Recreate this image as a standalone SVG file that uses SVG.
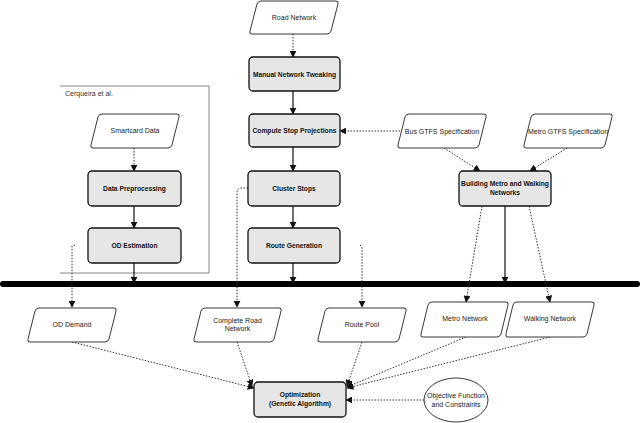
<svg xmlns="http://www.w3.org/2000/svg" width="640" height="423" viewBox="0 0 640 423">
<defs>
<style>
.proc{fill:#e6e6e6;stroke:#111;stroke-width:1.3}
.data{fill:#fff;stroke:#222;stroke-width:0.9}
.b{font-family:"Liberation Sans",Arial,sans-serif;font-size:6.7px;font-weight:bold;fill:#111;text-anchor:middle}
.t{font-family:"Liberation Sans",Arial,sans-serif;font-size:7px;fill:#222;text-anchor:middle}
.solid{fill:none;stroke:#111;stroke-width:1.2}
.dot{fill:none;stroke:#333;stroke-width:1;stroke-dasharray:1.5 1.5}
</style>
<marker id="ah" viewBox="0 0 10 10" refX="9" refY="5" markerWidth="7" markerHeight="7" markerUnits="userSpaceOnUse" orient="auto">
<path d="M0,0 L10,5 L0,10 z" fill="#111"/>
</marker>
</defs>
<rect width="640" height="423" fill="#fff"/>

<g id="cerqueira">
<path d="M60,86 H209 V273 H60" fill="none" stroke="#777" stroke-width="0.9"/>
<text x="65" y="96" font-family="'Liberation Sans',Arial,sans-serif" font-size="7px" fill="#333">Cerqueira et al.</text>
</g>

<g id="bus">
<line x1="3" y1="284" x2="637" y2="284" stroke="#000" stroke-width="6" stroke-linecap="round"/>
</g>

<g id="connectors">
<line class="dot" x1="293" y1="34" x2="293" y2="57" marker-end="url(#ah)"/>
<line class="solid" x1="293" y1="91" x2="293" y2="114" marker-end="url(#ah)"/>
<line class="solid" x1="293" y1="147" x2="293" y2="171" marker-end="url(#ah)"/>
<line class="solid" x1="293" y1="206" x2="293" y2="228" marker-end="url(#ah)"/>
<line class="solid" x1="293" y1="263" x2="293" y2="283" marker-end="url(#ah)"/>
<line class="dot" x1="134" y1="148" x2="134" y2="171" marker-end="url(#ah)"/>
<line class="solid" x1="134" y1="206" x2="134" y2="228" marker-end="url(#ah)"/>
<line class="solid" x1="134" y1="263" x2="134" y2="283" marker-end="url(#ah)"/>
<line class="solid" x1="505" y1="206" x2="505" y2="283" marker-end="url(#ah)"/>
<line class="dot" x1="400" y1="131" x2="340" y2="131" marker-end="url(#ah)"/>
<line class="dot" x1="444" y1="148" x2="480" y2="171" marker-end="url(#ah)"/>
<line class="dot" x1="567" y1="148" x2="530" y2="171" marker-end="url(#ah)"/>
<path class="dot" d="M75,245 L72,246 V307" marker-end="url(#ah)"/>
<path class="dot" d="M248,188 L240,188 Q237,189 237,192 V307" marker-end="url(#ah)"/>
<path class="dot" d="M360,245 L362,247 V307" marker-end="url(#ah)"/>
<line class="dot" x1="482" y1="206" x2="466" y2="302" marker-end="url(#ah)"/>
<line class="dot" x1="529" y1="206" x2="550" y2="302" marker-end="url(#ah)"/>
<line class="dot" x1="72" y1="342" x2="254" y2="388" marker-end="url(#ah)"/>
<line class="dot" x1="237" y1="342" x2="252" y2="386" marker-end="url(#ah)"/>
<line class="dot" x1="362" y1="342" x2="347" y2="386" marker-end="url(#ah)"/>
<line class="dot" x1="466" y1="337" x2="347" y2="387" marker-end="url(#ah)"/>
<line class="dot" x1="550" y1="337" x2="347" y2="388" marker-end="url(#ah)"/>
<line class="dot" x1="424" y1="400" x2="346" y2="400" marker-end="url(#ah)"/>
</g>

<g id="road-network">
<path class="data" d="M261,1 H336 Q339,1 338,4 L331,31 Q330,34 327,34 H252 Q249,34 250,31 L257,4 Q258,1 261,1 Z"/>
<text class="t" x="294" y="20">Road Network</text>
</g>
<g id="manual-tweaking">
<rect class="proc" x="249" y="57" width="91" height="34" rx="4"/>
<text class="b" x="294.5" y="76.5">Manual Network Tweaking</text>
</g>
<g id="compute-stop">
<rect class="proc" x="249" y="114" width="91" height="33" rx="4"/>
<text class="b" x="294.5" y="133">Compute Stop Projections</text>
</g>
<g id="cluster-stops">
<rect class="proc" x="248" y="171" width="92" height="35" rx="4"/>
<text class="b" x="294" y="191">Cluster Stops</text>
</g>
<g id="route-generation">
<rect class="proc" x="248" y="228" width="92" height="35" rx="4"/>
<text class="b" x="294" y="248">Route Generation</text>
</g>

<g id="smartcard-data">
<path class="data" d="M102,114 H177 Q180,114 179,117 L172,145 Q171,148 168,148 H93 Q90,148 91,145 L98,117 Q99,114 102,114 Z"/>
<text class="t" x="135" y="133">Smartcard Data</text>
</g>
<g id="data-preprocessing">
<rect class="proc" x="88" y="171" width="93" height="35" rx="4"/>
<text class="b" x="134.5" y="191">Data Preprocessing</text>
</g>
<g id="od-estimation">
<rect class="proc" x="88" y="228" width="93" height="35" rx="4"/>
<text class="b" x="134.5" y="248">OD Estimation</text>
</g>

<g id="bus-gtfs">
<path class="data" d="M409,114 H484 Q487,114 486,117 L479,145 Q478,148 475,148 H400 Q397,148 398,145 L405,117 Q406,114 409,114 Z"/>
<text class="t" x="442" y="134">Bus GTFS Specification</text>
</g>
<g id="metro-gtfs">
<path class="data" d="M535,114 H610 Q613,114 612,117 L605,145 Q604,148 601,148 H526 Q523,148 524,145 L531,117 Q532,114 535,114 Z"/>
<text class="t" x="568" y="134">Metro GTFS Specification</text>
</g>
<g id="building-networks">
<rect class="proc" x="459" y="171" width="92" height="35" rx="4"/>
<text class="b" x="505" y="186">Building Metro and Walking</text>
<text class="b" x="505" y="194.5">Networks</text>
</g>

<g id="od-demand">
<path class="data" d="M39,308 H114 Q117,308 116,311 L109,339 Q108,342 105,342 H30 Q27,342 28,339 L35,311 Q36,308 39,308 Z"/>
<text class="t" x="72" y="327">OD Demand</text>
</g>
<g id="complete-road-network">
<path class="data" d="M205,308 H279 Q282,308 281,311 L274,339 Q273,342 270,342 H196 Q193,342 194,339 L201,311 Q202,308 205,308 Z"/>
<text class="t" x="237.5" y="323">Complete Road</text>
<text class="t" x="237.5" y="331">Network</text>
</g>
<g id="route-pool">
<path class="data" d="M329,308 H404 Q407,308 406,311 L399,339 Q398,342 395,342 H320 Q317,342 318,339 L325,311 Q326,308 329,308 Z"/>
<text class="t" x="362" y="327">Route Pool</text>
</g>
<g id="metro-network">
<path class="data" d="M432,302 H506 Q509,302 508,305 L501,334 Q500,337 497,337 H423 Q420,337 421,334 L428,305 Q429,302 432,302 Z"/>
<text class="t" x="465" y="321">Metro Network</text>
</g>
<g id="walking-network">
<path class="data" d="M517,302 H592 Q595,302 594,305 L587,334 Q586,337 583,337 H508 Q505,337 506,334 L513,305 Q514,302 517,302 Z"/>
<text class="t" x="550" y="321">Walking Network</text>
</g>
<g id="optimization">
<rect class="proc" x="254" y="382" width="92" height="35" rx="4"/>
<text class="b" x="300" y="397">Optimization</text>
<text class="b" x="300" y="405.5">(Genetic Algorithm)</text>
</g>
<g id="objective">
<ellipse class="data" cx="456" cy="400" rx="32" ry="22"/>
<text class="t" x="456" y="398">Objective Function</text>
<text class="t" x="456" y="406.5">and Constraints</text>
</g>
</svg>
